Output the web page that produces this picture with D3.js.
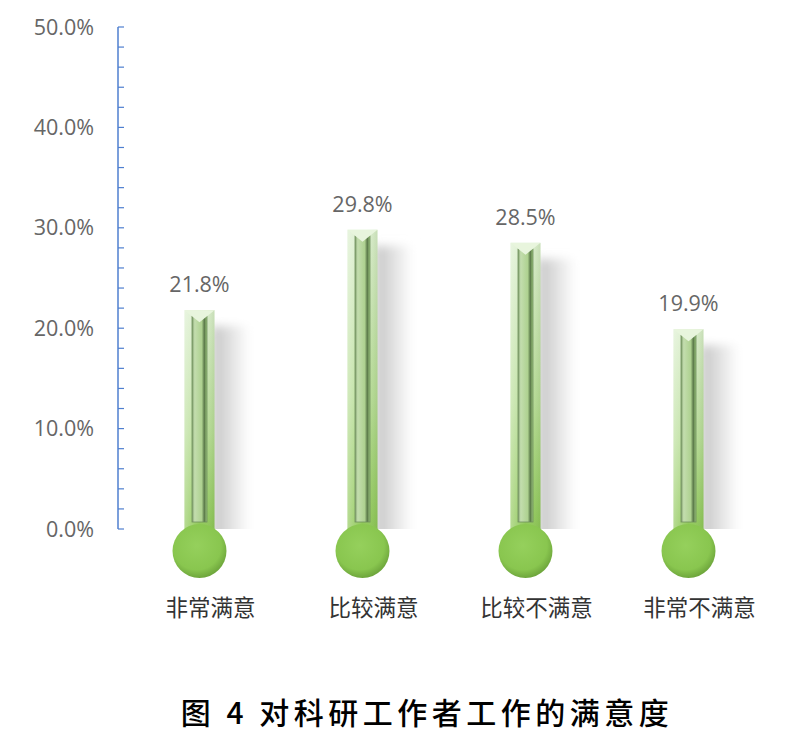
<!DOCTYPE html>
<html>
<head>
<meta charset="utf-8">
<script src="https://cdn.jsdelivr.net/npm/d3@7"></script>
<style>
  body { margin: 0; background: #fff; }
  svg { display: block; }
</style>
</head>
<body>
<svg id="chart" width="796" height="734"></svg>
<script>
// satisfaction of research workers with their work
var categories = ["非常满意", "比较满意", "比较不满意", "非常不满意"];
var values = [0.218, 0.298, 0.285, 0.199];
var yTicks = [0, 0.1, 0.2, 0.3, 0.4, 0.5];
var titleText = "图 4 对科研工作者工作的满意度";

var svg = d3.select("#chart");
var width = 796, height = 734;
var fmt = d3.format(".1%");

var yScale = d3.scaleLinear().domain([0, 0.5]).range([529, 27]);
var xScale = d3.scaleBand().domain(categories).range([118, 770]).padding(0);

var defs = svg.append("defs");

var tubeGrad = defs.append("linearGradient").attr("id", "tubeGrad")
	.attr("x1", 0).attr("y1", 0).attr("x2", 0).attr("y2", 1);
tubeGrad.append("stop").attr("offset", "0%").attr("stop-color", "#dcefcf");
tubeGrad.append("stop").attr("offset", "55%").attr("stop-color", "#b9de98");
tubeGrad.append("stop").attr("offset", "100%").attr("stop-color", "#8cc653");

var tubeSide = defs.append("linearGradient").attr("id", "tubeSide")
	.attr("x1", 0).attr("y1", 0).attr("x2", 1).attr("y2", 0);
tubeSide.append("stop").attr("offset", "0%").attr("stop-color", "#ffffff").attr("stop-opacity", 0.35);
tubeSide.append("stop").attr("offset", "50%").attr("stop-color", "#ffffff").attr("stop-opacity", 0);
tubeSide.append("stop").attr("offset", "100%").attr("stop-color", "#4f7a2c").attr("stop-opacity", 0.15);

var innerGrad = defs.append("linearGradient").attr("id", "innerGrad")
	.attr("x1", 0).attr("y1", 0).attr("x2", 1).attr("y2", 0);
innerGrad.append("stop").attr("offset", "0%").attr("stop-color", "#7d9c6a");
innerGrad.append("stop").attr("offset", "18%").attr("stop-color", "#c3ddae");
innerGrad.append("stop").attr("offset", "65%").attr("stop-color", "#aed190");
innerGrad.append("stop").attr("offset", "82%").attr("stop-color", "#5a7849");
innerGrad.append("stop").attr("offset", "100%").attr("stop-color", "#9cc67d");

var bulbGrad = defs.append("radialGradient").attr("id", "bulbGrad")
	.attr("cx", "45%").attr("cy", "40%").attr("r", "60%");
bulbGrad.append("stop").attr("offset", "0%").attr("stop-color", "#95d05c");
bulbGrad.append("stop").attr("offset", "75%").attr("stop-color", "#89c64f");
bulbGrad.append("stop").attr("offset", "100%").attr("stop-color", "#6ea63c");

var shadowGrad = defs.append("linearGradient").attr("id", "shadowGrad")
	.attr("x1", 0).attr("y1", 0).attr("x2", 1).attr("y2", 0);
shadowGrad.append("stop").attr("offset", "0%").attr("stop-color", "#c4c4c4");
shadowGrad.append("stop").attr("offset", "45%").attr("stop-color", "#dedede");
shadowGrad.append("stop").attr("offset", "100%").attr("stop-color", "#ffffff");

defs.append("filter").attr("id", "blur").attr("x", "-50%").attr("y", "-20%")
	.attr("width", "200%").attr("height", "140%")
	.append("feGaussianBlur").attr("stdDeviation", 5);

defs.append("clipPath").attr("id", "aboveZero")
	.append("rect").attr("x", 0).attr("y", 0).attr("width", width).attr("height", yScale(0));

// y axis
var axis = svg.append("g").attr("transform", "translate(118,0)");
var minorTicks = d3.range(0, 0.5001, 0.02);
axis.selectAll("line.minor").data(minorTicks).enter().append("line")
	.attr("class", "minor")
	.attr("x1", 0).attr("x2", 6)
	.attr("y1", function(d){return yScale(d);})
	.attr("y2", function(d){return yScale(d);})
	.attr("stroke", "#4f7fcf").attr("stroke-width", 1.2);
axis.append("line")
	.attr("x1", 0).attr("x2", 0)
	.attr("y1", yScale(0.5)).attr("y2", yScale(0))
	.attr("stroke", "#4f7fcf").attr("stroke-width", 1.5);
axis.selectAll("text").data(yTicks).enter().append("text")
	.attr("x", -24)
	.attr("y", function(d){return yScale(d);})
	.attr("dy", "0.35em")
	.attr("text-anchor", "end")
	.attr("font-family", "'Open Sans', sans-serif")
	.attr("font-size", 21.5)
	.attr("fill", "#666")
	.text(function(d){return fmt(d);});

var tubeW = 30, innerW = 15, bulbR = 27;

var bars = svg.selectAll("g.bar").data(values).enter().append("g").attr("class", "bar")
	.attr("transform", function(d, i){
		return "translate(" + (xScale(categories[i]) + xScale.bandwidth() / 2) + ",0)";
	});

// shadow
bars.append("rect")
	.attr("clip-path", "url(#aboveZero)")
	.attr("x", tubeW / 2 - 3)
	.attr("y", function(d){return yScale(d) + 16;})
	.attr("width", 38)
	.attr("height", function(d){return yScale(0) - yScale(d);})
	.attr("fill", "url(#shadowGrad)")
	.attr("filter", "url(#blur)");

// tube
bars.append("rect")
	.attr("x", -tubeW / 2)
	.attr("y", function(d){return yScale(d);})
	.attr("width", tubeW)
	.attr("height", function(d){return yScale(0) - yScale(d) + 5;})
	.attr("fill", "url(#tubeGrad)");
bars.append("rect")
	.attr("x", -tubeW / 2)
	.attr("y", function(d){return yScale(d);})
	.attr("width", tubeW)
	.attr("height", function(d){return yScale(0) - yScale(d) + 5;})
	.attr("fill", "url(#tubeSide)");

// inner strip
bars.append("rect")
	.attr("x", -innerW / 2)
	.attr("y", function(d){return yScale(d) + 6;})
	.attr("width", innerW)
	.attr("height", function(d){return yScale(0) - yScale(d) - 13;})
	.attr("fill", "url(#innerGrad)")
	.attr("stroke", "#6f8f5c")
	.attr("stroke-width", 0.8);

// bevelled top
bars.append("path")
	.attr("d", function(d){
		var t = yScale(d);
		return "M" + (-tubeW / 2) + "," + t + "L" + (tubeW / 2) + "," + t +
			"L" + (innerW / 2) + "," + (t + 6) + "L0," + (t + 12) +
			"L" + (-innerW / 2) + "," + (t + 6) + "Z";
	})
	.attr("fill", "#e8f5dd");

// bulb
bars.append("circle")
	.attr("cx", 0)
	.attr("cy", yScale(0) + 22)
	.attr("r", bulbR)
	.attr("fill", "url(#bulbGrad)");

// value labels
bars.append("text")
	.attr("x", 0)
	.attr("y", function(d){return yScale(d) - 18;})
	.attr("text-anchor", "middle")
	.attr("font-family", "'Open Sans', sans-serif")
	.attr("font-size", 21.5)
	.attr("fill", "#666")
	.text(function(d){return fmt(d);});

// category labels
svg.selectAll("text.cat").data(categories).enter().append("text")
	.attr("class", "cat")
	.attr("x", function(d){return xScale(d) + xScale.bandwidth() / 2 + 11;})
	.attr("y", 616)
	.attr("text-anchor", "middle")
	.attr("font-family", "'Noto Sans CJK SC', sans-serif")
	.attr("font-size", 22.5)
	.attr("fill", "#333")
	.text(function(d){return d;});

// caption
svg.append("text")
	.attr("x", 427)
	.attr("y", 724)
	.attr("text-anchor", "middle")
	.attr("font-family", "'Noto Sans CJK SC', serif")
	.attr("font-size", 30)
	.attr("font-weight", 500)
	.attr("letter-spacing", 4.5)
	.attr("fill", "#000")
	.text(titleText);
</script>
</body>
</html>
